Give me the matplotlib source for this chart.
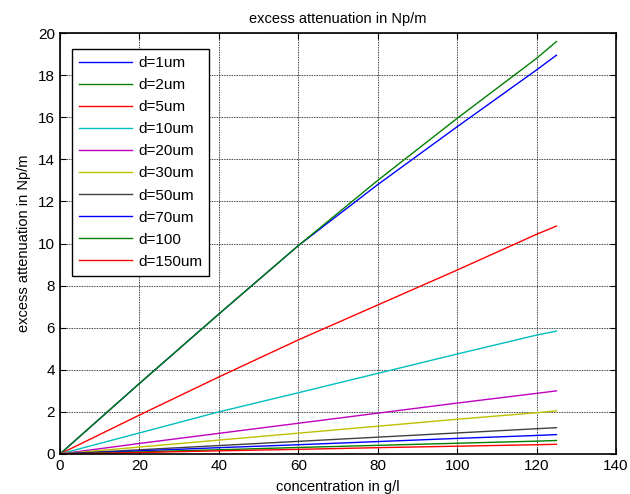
import numpy as np
import matplotlib
matplotlib.use('Agg')
import matplotlib.pyplot as plt

# concentration samples (g/l)
conc = [0, 20, 40, 60, 80, 100, 120, 125]

# excess attenuation (Np/m) per particle diameter
att_1um = [0, 3.35, 6.65, 9.9, 12.8, 15.55, 18.25, 18.95]
att_2um = [0, 3.35, 6.65, 9.9, 13.0, 15.95, 18.8, 19.6]
att_5um = [0, 1.85, 3.66, 5.42, 7.08, 8.74, 10.44, 10.83]
att_10um = [0, 1.0, 2.0, 2.91, 3.83, 4.75, 5.65, 5.84]
att_20um = [0, 0.5, 0.98, 1.46, 1.94, 2.42, 2.88, 3.0]
att_30um = [0, 0.33, 0.66, 0.99, 1.32, 1.65, 1.96, 2.05]
att_50um = [0, 0.2, 0.4, 0.6, 0.8, 1.0, 1.2, 1.25]
att_70um = [0, 0.15, 0.3, 0.44, 0.59, 0.74, 0.88, 0.92]
att_100um = [0, 0.1, 0.2, 0.31, 0.41, 0.51, 0.61, 0.64]
att_150um = [0, 0.07, 0.15, 0.22, 0.3, 0.37, 0.44, 0.46]

labels = ['d=1um', 'd=2um', 'd=5um', 'd=10um', 'd=20um',
          'd=30um', 'd=50um', 'd=70um', 'd=100', 'd=150um']
series = [att_1um, att_2um, att_5um, att_10um, att_20um,
          att_30um, att_50um, att_70um, att_100um, att_150um]

# classic colour cycle: b g r c m y k, then repeat
colors = ['#0000ff', '#008000', '#ff0000', '#00bfbf', '#bf00bf',
          '#bfbf00', '#404040', '#0000ff', '#008000', '#ff0000']

plt.rcParams['font.family'] = ['Liberation Sans', 'DejaVu Sans']

fig = plt.figure(figsize=(6.3, 4.94), dpi=100)
ax = fig.add_axes([0.0952, 0.081, 0.8826, 0.852])

for y, lab, col in zip(series, labels, colors):
    ax.plot(conc, y, color=col, linewidth=1.0, label=lab)

ax.set_xlim(0, 140)
ax.set_ylim(0, 20)
ax.set_xticks(np.arange(0, 141, 20))
ax.set_yticks(np.arange(0, 21, 2))

# dotted grid, ticks inside on every side
ax.grid(True, color='black', linestyle=(0, (1, 1)), linewidth=0.6)
ax.tick_params(direction='in', top=True, right=True, length=4,
               labelsize=11, width=0.8)
for s in ax.spines.values():
    s.set_linewidth(1.2)

ax.set_title('excess attenuation in Np/m', fontsize=10.5, pad=7)
ax.set_xlabel('concentration in g/l', fontsize=10.5, labelpad=5)
ax.set_ylabel('excess attenuation in Np/m', fontsize=10.5, labelpad=5)

leg = ax.legend(loc='upper left', bbox_to_anchor=(0.0215, 0.962),
                fontsize=11, frameon=True, fancybox=False,
                edgecolor='black', framealpha=1, handlelength=3.5,
                handletextpad=0.4, labelspacing=0.53, borderpad=0.45,
                borderaxespad=0)
leg.get_frame().set_linewidth(1.0)

fig.savefig('out.png', dpi=100)
